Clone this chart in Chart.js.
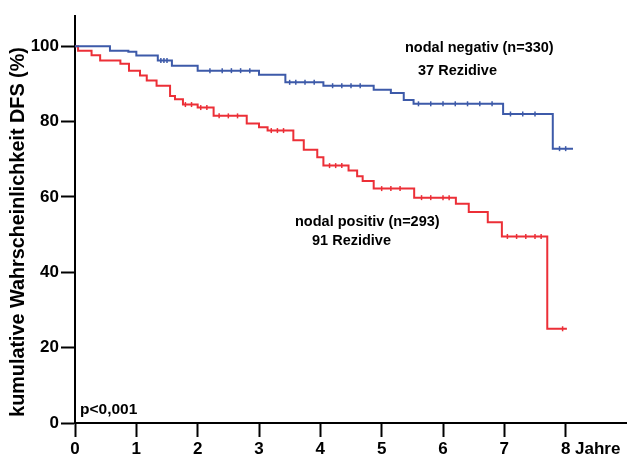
<!DOCTYPE html>
<html>
<head>
<meta charset="utf-8">
<script src="https://cdn.jsdelivr.net/npm/chart.js@4.4.1/dist/chart.umd.min.js"></script>
<style>
  html, body { margin: 0; padding: 0; background: #fff; }
  #wrap { width: 627px; height: 460px; position: relative; }
</style>
</head>
<body>
<div id="wrap"><canvas id="km"></canvas></div>
<script>
// Zeitpunkte (Jahre) und DFS-Werte (%) nach dem Ereignis
const negZeit = [0, 0.57, 0.87, 1.0, 1.35, 1.58, 2.0, 3.0, 3.43, 4.05, 4.87, 5.15, 5.36, 5.52, 6.98, 7.79, 8.12];
const negDFS  = [100, 98.8, 98.5, 97.5, 96.2, 94.8, 93.5, 92.4, 90.4, 89.5, 88.4, 87.6, 85.7, 84.7, 82.0, 72.8, 72.8];

const posZeit = [0, 0.05, 0.27, 0.41, 0.74, 0.88, 1.06, 1.17, 1.33, 1.55, 1.63, 1.76, 2.0, 2.26, 2.8, 3.0, 3.14, 3.56, 3.73, 3.95, 4.05, 4.46, 4.6, 4.69, 4.87, 5.53, 6.21, 6.42, 6.73, 6.96, 7.7, 8.02];
const posDFS  = [100, 98.8, 97.6, 96.2, 95.3, 93.5, 92.2, 90.9, 89.5, 86.8, 85.9, 84.5, 83.7, 81.5, 79.5, 78.5, 77.6, 75.0, 72.5, 70.5, 68.3, 67.0, 65.5, 64.2, 62.2, 59.8, 58.2, 56.0, 53.3, 49.5, 25.0, 25.0];

// zensierte Faelle (Striche auf der Kurve)
const negZensZeit = [1.4, 1.45, 1.5, 2.2, 2.4, 2.55, 2.7, 2.85, 3.5, 3.6, 3.75, 3.9, 4.2, 4.35, 4.5, 4.65, 5.6, 5.8, 6.0, 6.2, 6.4, 6.6, 6.8, 7.1, 7.3, 7.5, 7.9, 8.0];
const negZensDFS  = [96.2, 96.2, 96.2, 93.5, 93.5, 93.5, 93.5, 93.5, 90.4, 90.4, 90.4, 90.4, 89.5, 89.5, 89.5, 89.5, 84.7, 84.7, 84.7, 84.7, 84.7, 84.7, 84.7, 82.0, 82.0, 82.0, 72.8, 72.8];

const posZensZeit = [1.8, 1.9, 2.05, 2.15, 2.35, 2.5, 2.65, 3.2, 3.3, 3.4, 4.15, 4.25, 4.35, 5.0, 5.15, 5.3, 5.65, 5.8, 6.0, 6.1, 7.05, 7.2, 7.35, 7.5, 7.6, 7.95];
const posZensDFS  = [84.5, 84.5, 83.7, 83.7, 81.5, 81.5, 81.5, 77.6, 77.6, 77.6, 68.3, 68.3, 68.3, 62.2, 62.2, 62.2, 59.8, 59.8, 59.8, 59.8, 49.5, 49.5, 49.5, 49.5, 49.5, 25.0];

const xTicks = [0, 1, 2, 3, 4, 5, 6, 7, 8];
const yTicks = [0, 20, 40, 60, 80, 100];

const blau = '#3d5aa9';
const rot = '#ec2f37';
const schrift = '"Liberation Sans", Arial, sans-serif';

function punkte(zeit, werte) {
  return zeit.map((t, i) => ({ x: t, y: werte[i] }));
}

// Beschriftungen im Diagramm
const textPlugin = {
  id: 'texte',
  afterDraw(chart) {
    const ctx = chart.ctx;
    ctx.save();
    ctx.fillStyle = '#000';
    ctx.textBaseline = 'middle';
    ctx.textAlign = 'left';
    ctx.font = 'bold 14.5px ' + schrift;
    ctx.fillText('nodal negativ (n=330)', 405, 48);
    ctx.fillText('37 Rezidive', 418, 71);
    ctx.fillText('nodal positiv (n=293)', 295, 222);
    ctx.fillText('91 Rezidive', 312, 241);
    ctx.font = 'bold 15.5px ' + schrift;
    ctx.fillText('p<0,001', 80, 410);
    ctx.font = 'bold 17px ' + schrift;
    ctx.fillText('Jahre', 575, 449);
    // Achsentitel
    ctx.translate(19, 232);
    ctx.rotate(-Math.PI / 2);
    ctx.textAlign = 'center';
    ctx.font = 'bold 19.8px ' + schrift;
    ctx.fillText('kumulative Wahrscheinlichkeit DFS (%)', 0, 0);
    ctx.restore();
  }
};

const zensiert = (zeit, werte, farbe) => ({
  type: 'scatter',
  data: punkte(zeit, werte),
  showLine: false,
  pointStyle: 'line',
  rotation: 90,
  pointRadius: 2.5,
  borderColor: farbe,
  pointBorderWidth: 1.5
});

new Chart(document.getElementById('km'), {
  type: 'line',
  data: {
    datasets: [
      {
        label: 'nodal negativ',
        data: punkte(negZeit, negDFS),
        borderColor: blau,
        borderWidth: 2,
        stepped: true,
        pointRadius: 0
      },
      {
        label: 'nodal positiv',
        data: punkte(posZeit, posDFS),
        borderColor: rot,
        borderWidth: 2,
        stepped: true,
        pointRadius: 0
      },
      zensiert(negZensZeit, negZensDFS, blau),
      zensiert(posZensZeit, posZensDFS, rot)
    ]
  },
  options: {
    responsive: true,
    maintainAspectRatio: false,
    animation: false,
    layout: { autoPadding: false, padding: { top: 16, right: 0, left: 0, bottom: 0 } },
    plugins: { legend: { display: false }, tooltip: { enabled: false } },
    scales: {
      x: {
        type: 'linear',
        min: 0,
        max: 9,
        afterBuildTicks: s => { s.ticks = xTicks.map(v => ({ value: v })); },
        afterFit: s => { s.height = 37; },
        grid: { drawOnChartArea: false, drawTicks: true, tickLength: 14, tickColor: '#000', tickWidth: 2 },
        border: { display: true, color: '#000', width: 2 },
        ticks: {
          color: '#000',
          padding: 2,
          maxRotation: 0,
          font: { family: schrift, size: 17, weight: 'bold' }
        }
      },
      y: {
        min: 0,
        max: 108,
        afterBuildTicks: s => { s.ticks = yTicks.map(v => ({ value: v })); },
        afterFit: s => { s.width = 75; },
        grid: { drawOnChartArea: false, drawTicks: true, tickLength: 14, tickColor: '#000', tickWidth: 2 },
        border: { display: true, color: '#000', width: 2 },
        ticks: {
          color: '#000',
          padding: 2,
          font: { family: schrift, size: 17, weight: 'bold' }
        }
      }
    }
  },
  plugins: [textPlugin]
});
</script>
</body>
</html>
